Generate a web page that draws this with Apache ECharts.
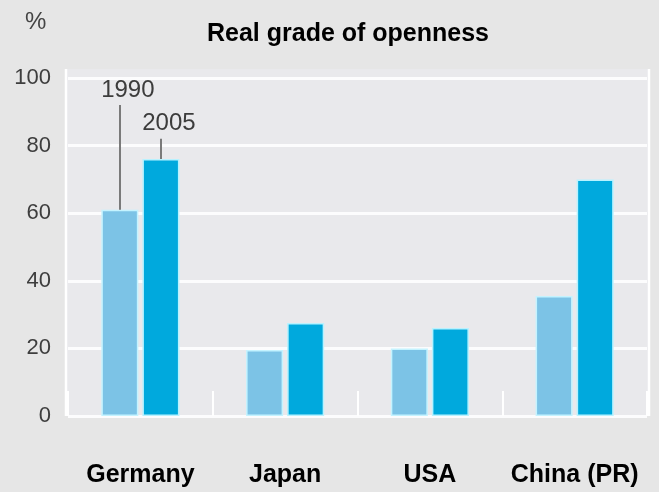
<!DOCTYPE html>
<html>
<head>
<meta charset="utf-8">
<script src="https://cdn.jsdelivr.net/npm/echarts@6/dist/echarts.min.js"></script>
<style>
html,body{margin:0;padding:0;background:#e6e6e6;}
#chart{width:659px;height:492px;}
</style>
</head>
<body>
<div id="chart"></div>
<script>
var categories = ['Germany', 'Japan', 'USA', 'China (PR)'];
var values1990 = [61, 19.5, 20, 35.5];
var values2005 = [76, 27.5, 26, 70];
var yTicks = [0, 20, 40, 60, 80, 100];
var seriesNames = ['1990', '2005'];
var annotationTop = [92, 82];

var chart = echarts.init(document.getElementById('chart'), null, {renderer: 'canvas'});

function annotation(name, value, top) {
  return {
    silent: true,
    symbol: ['none', 'none'],
    animation: false,
    lineStyle: {color: '#7a7a7a', width: 2, type: 'solid'},
    label: {
      show: true,
      position: 'end',
      formatter: name,
      color: '#3c3c3c',
      fontFamily: 'Liberation Sans, Arial, sans-serif',
      fontSize: 24,
      distance: 3,
      padding: [0, 0, 0, 16]
    },
    data: [[{coord: [categories[0], value]}, {coord: [categories[0], top]}]]
  };
}

var option = {
  backgroundColor: '#e6e6e6',
  animation: false,
  title: [
    {
      text: 'Real grade of openness',
      left: 207,
      top: 22,
      padding: 0,
      textStyle: {fontFamily: 'Liberation Sans, Arial, sans-serif', fontSize: 25, fontWeight: 'bold', color: '#000'}
    },
    {
      text: '%',
      left: 25,
      top: 10,
      padding: 0,
      textStyle: {fontFamily: 'Liberation Sans, Arial, sans-serif', fontSize: 24, fontWeight: 'normal', color: '#444'}
    }
  ],
  graphic: [
    {type: 'rect', z: -10, silent: true, shape: {x: 65, y: 69, width: 585, height: 347}, style: {fill: '#e9e9ec'}},
    {type: 'line', z: -9, silent: true, shape: {x1: 66, y1: 69, x2: 66, y2: 416}, style: {stroke: '#ffffff', lineWidth: 2.5}},
    {type: 'line', z: -9, silent: true, shape: {x1: 649, y1: 69, x2: 649, y2: 416}, style: {stroke: '#ffffff', lineWidth: 2.5}}
  ],
  grid: {left: 68, right: 12, top: 78, bottom: 76, containLabel: false},
  xAxis: {
    type: 'category',
    data: categories,
    axisLine: {show: false},
    axisTick: {show: true, interval: 0, inside: true, length: 25, lineStyle: {color: '#ffffff', width: 2}},
    axisLabel: {
      interval: 0,
      margin: 47,
      color: '#000',
      fontFamily: 'Liberation Sans, Arial, sans-serif',
      fontSize: 25,
      fontWeight: 'bold'
    },
    splitLine: {show: false}
  },
  yAxis: {
    type: 'value',
    min: yTicks[0],
    max: yTicks[yTicks.length - 1],
    interval: 20,
    axisLine: {show: false},
    axisTick: {show: false},
    axisLabel: {
      margin: 17,
      color: '#3e3e3e',
      fontFamily: 'Liberation Sans, Arial, sans-serif',
      fontSize: 22
    },
    splitLine: {show: true, lineStyle: {color: '#fcfcfd', width: 3}}
  },
  series: [
    {
      name: seriesNames[0],
      type: 'bar',
      data: values1990,
      barWidth: 37,
      barGap: '11%',
      itemStyle: {color: '#7cc3e6', borderColor: '#c4f3ff', borderWidth: 1.5},
      markLine: annotation(seriesNames[0], values1990[0], annotationTop[0])
    },
    {
      name: seriesNames[1],
      type: 'bar',
      data: values2005,
      barWidth: 37,
      itemStyle: {color: '#00a9dd', borderColor: '#b8f2ff', borderWidth: 1.5},
      markLine: annotation(seriesNames[1], values2005[0], annotationTop[1])
    }
  ]
};
chart.setOption(option);
</script>
</body>
</html>
